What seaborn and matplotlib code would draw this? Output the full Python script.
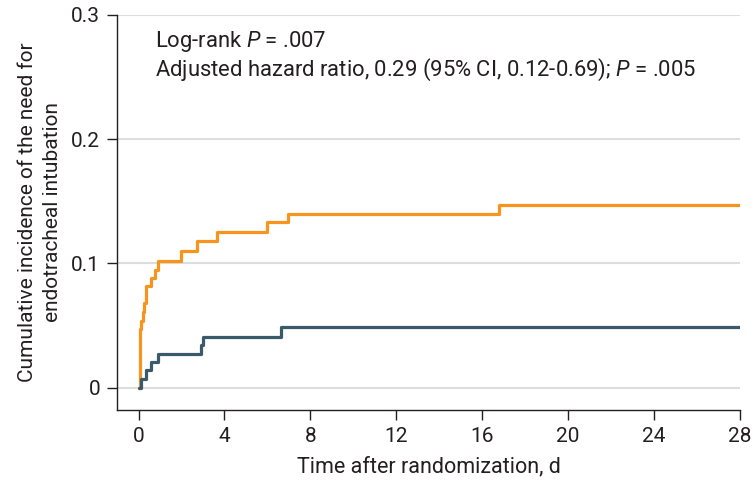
import matplotlib
matplotlib.use("Agg")
import matplotlib.pyplot as plt
import seaborn as sns
import pandas as pd

# Data (cumulative incidence step functions)
orange_t = [0, 0.05, 0.13, 0.20, 0.27, 0.33, 0.37, 0.59, 0.75, 0.90, 1.96, 2.73, 3.67, 5.96, 6.97, 16.8, 28]
orange_y = [0, 0.047, 0.054, 0.061, 0.068, 0.075, 0.082, 0.088, 0.095, 0.102, 0.110, 0.118, 0.125, 0.133, 0.140, 0.147, 0.147]
teal_t = [0, 0.12, 0.35, 0.60, 0.90, 2.93, 3.00, 6.65, 28]
teal_y = [0, 0.007, 0.014, 0.021, 0.0275, 0.034, 0.041, 0.0485, 0.0485]

x_ticks = [0, 4, 8, 12, 16, 20, 24, 28]
y_ticks = [0, 0.1, 0.2, 0.3]
y_tick_labels = ["0", "0.1", "0.2", "0.3"]

sns.set_style("white")
FONT = "Roboto"
plt.rcParams["font.family"] = [FONT, "DejaVu Sans"]
plt.rcParams["mathtext.fontset"] = "custom"
plt.rcParams["mathtext.rm"] = FONT
plt.rcParams["mathtext.it"] = FONT + ":italic"

ORANGE = "#F7941E"
TEAL = "#3A5A69"
TEXT = "#231F20"

df = pd.concat([
    pd.DataFrame({"t": orange_t, "y": orange_y, "grp": "orange"}),
    pd.DataFrame({"t": teal_t, "y": teal_y, "grp": "teal"}),
])

fig = plt.figure(figsize=(7.56, 4.83), dpi=100)
ax = fig.add_axes([0.1548, 0.151, 0.8240, 0.818])

for yv in y_ticks:
    ax.axhline(yv, color="#DCDDDE", lw=1.5, zorder=0)

sns.lineplot(data=df, x="t", y="y", hue="grp", palette={"orange": ORANGE, "teal": TEAL},
             drawstyle="steps-post", lw=2.3, legend=False, ax=ax, estimator=None, sort=False)

ax.set_xlim(-1, 28)
ax.set_ylim(-0.018, 0.3)
ax.set_xticks(x_ticks)
ax.set_xticklabels([str(v) for v in x_ticks])
ax.set_yticks(y_ticks)
ax.set_yticklabels(y_tick_labels)
ax.tick_params(axis="both", direction="out", length=7, width=1, color=TEXT,
               labelsize=15, labelcolor=TEXT, pad=5, left=True, bottom=True)

for s in ["top", "right"]:
    ax.spines[s].set_visible(False)
for s in ["left", "bottom"]:
    ax.spines[s].set_color(TEXT)
    ax.spines[s].set_linewidth(1)

ax.set_xlabel("Time after randomization, d", fontsize=15.5, color=TEXT, labelpad=8)
ax.set_ylabel("Cumulative incidence of the need for\nendotracheal intubation", fontsize=15,
              color=TEXT, labelpad=7, linespacing=1.4)

ax.text(0.061, 0.932, "Log-rank $P$ = .007", transform=ax.transAxes, fontsize=15.8,
        color=TEXT, va="center", ha="left")
ax.text(0.061, 0.861, "Adjusted hazard ratio, 0.29 (95% CI, 0.12-0.69); $P$ = .005",
        transform=ax.transAxes, fontsize=15.8, color=TEXT, va="center", ha="left")

fig.savefig("out.png", dpi=100)
